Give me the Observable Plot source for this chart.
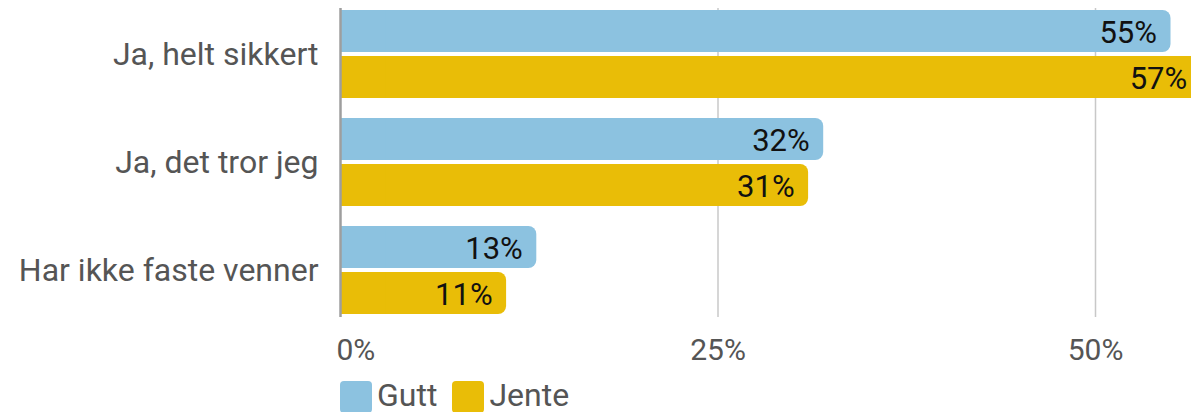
<!DOCTYPE html>
<html>
<head>
<meta charset="utf-8">
<script src="https://cdn.jsdelivr.net/npm/d3@7"></script>
<script src="https://cdn.jsdelivr.net/npm/@observablehq/plot@0.6"></script>
<style>
  html, body { margin: 0; padding: 0; background: #fff; overflow: hidden; }
  body { width: 1191px; height: 412px; font-family: Roboto, "Noto Sans", sans-serif; }
  #legend { display: flex; align-items: flex-start; margin-left: 340px; margin-top: 5px; font-size: 32px; line-height: 36px; color: #555; }
  .item { display: flex; align-items: flex-start; margin-right: 15px; }
  .sw { width: 32px; height: 32px; border-radius: 4px; margin-right: 5px; margin-top: 4px; }
</style>
</head>
<body>
<div id="chart"></div>
<div id="legend"></div>
<script>
const categories = ["Ja, helt sikkert", "Ja, det tror jeg", "Har ikke faste venner"];
const series = ["Gutt", "Jente"];
const gutt = [55, 32, 13];
const jente = [57, 31, 11];
const xTicks = [0, 25, 50];
const colors = ["#8cc2e0", "#e9bd07"];

const guttData = categories.map((c, i) => ({cat: c, value: gutt[i]}));
const jenteData = categories.map((c, i) => ({cat: c, value: jente[i]}));
const fmt = d => d + "%";

const W = 1191, H = 372;
const plot = Plot.plot({
  width: W,
  height: H,
  marginLeft: 340,
  marginRight: 0,
  marginTop: 10,
  marginBottom: 58,
  style: {fontFamily: "Roboto, sans-serif", background: "#fff"},
  x: {domain: [0, 851 / 15.1], axis: null, label: null},
  y: {domain: categories, paddingInner: 20 / 108, paddingOuter: 0, axis: null, label: null},
  marks: [
    Plot.ruleX(xTicks.filter(d => d > 0), {stroke: "#c8c8c8", strokeWidth: 1.5, insetTop: -2, insetBottom: -3}),
    Plot.barX(guttData, {x: "value", y: "cat", fill: colors[0], insetBottom: 46, rx: 8}),
    Plot.barX(jenteData, {x: "value", y: "cat", fill: colors[1], insetTop: 46, rx: 8}),
    Plot.barX(guttData, {x1: 0, x2: d => Math.min(d.value, 3), y: "cat", fill: colors[0], insetBottom: 46}),
    Plot.barX(jenteData, {x1: 0, x2: d => Math.min(d.value, 3), y: "cat", fill: colors[1], insetTop: 46}),
    Plot.text(guttData, {x: "value", y: "cat", text: d => fmt(d.value), textAnchor: "end", dx: -14, dy: -21, fontSize: 31, fill: "#111"}),
    Plot.text(jenteData, {x: "value", y: "cat", text: d => fmt(d.value), textAnchor: "end", dx: -14, dy: 25, fontSize: 31, fill: "#111"}),
    Plot.ruleX([0], {stroke: "#9e9e9e", strokeWidth: 2.5, insetTop: -2, insetBottom: -3}),
    Plot.axisY({tickSize: 0, tickPadding: 22, fontSize: 32, fill: "#555", stroke: null, label: null}),
    Plot.axisX(xTicks.filter(d => d === 0), {tickSize: 0, tickPadding: 24, textAnchor: "start", dx: -4, fontSize: 30, fill: "#555", tickFormat: fmt, label: null}),
    Plot.axisX(xTicks.filter(d => d > 0), {tickSize: 0, tickPadding: 24, fontSize: 30, fill: "#555", tickFormat: fmt, label: null})
  ]
});
document.getElementById("chart").appendChild(plot);

const legend = document.getElementById("legend");
series.forEach((s, i) => {
  const item = document.createElement("div");
  item.className = "item";
  const sw = document.createElement("div");
  sw.className = "sw";
  sw.style.background = colors[i];
  const label = document.createElement("span");
  label.textContent = s;
  item.appendChild(sw);
  item.appendChild(label);
  legend.appendChild(item);
});
</script>
</body>
</html>
